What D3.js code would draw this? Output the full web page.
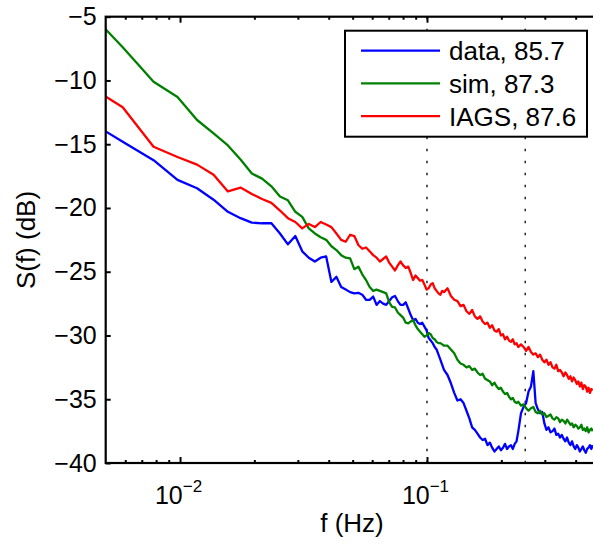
<!DOCTYPE html>
<html>
<head>
<meta charset="utf-8">
<script src="https://cdn.jsdelivr.net/npm/d3@7"></script>
<style>
  html, body { margin: 0; padding: 0; background: #fff; }
  svg { display: block; font-family: "Liberation Sans", Arial, sans-serif; }
</style>
</head>
<body>
<div id="chart"></div>
<script>
// frequency bins (f = k / 512 Hz)
const binIndex = [
  2, 3, 4, 5, 6, 7, 8, 9, 10, 11, 12, 13, 14, 15, 16, 17, 18, 19, 20, 21,
  22, 23, 24, 25, 26, 27, 28, 29, 30, 31, 32, 33, 34, 35, 36, 37, 38, 39, 40, 41,
  42, 43, 44, 45, 46, 47, 48, 49, 50, 51, 52, 53, 54, 55, 56, 57, 58, 59, 60,
  62, 64, 66, 68, 70, 72, 74, 76, 78, 80, 82, 84, 86, 88, 90, 92, 94, 96, 98, 100,
  102, 104, 106, 108, 110, 112, 114, 116, 118, 120,
  123, 126, 129, 132, 135, 138, 141, 144, 147, 150, 153, 156, 159, 162, 165, 168, 171, 174, 177, 180,
  183, 186, 189, 192, 195, 198, 201, 204, 207, 210, 213, 216, 219, 222, 225, 228, 231, 234, 237, 240
];
const binWidth = 1 / 512;

const dataValues = [
  -12.75, -14.8, -16.25, -17.8, -18.45, -19.35, -20.3, -20.8, -21.15, -21.2,
  -21.2, -22.0, -22.85, -22.2, -23.4, -23.9, -24.2, -23.9, -23.8, -25.8,
  -25.4, -26.2, -26.4, -26.6, -26.7, -26.65, -26.8, -27.2, -27.2, -26.95,
  -27.6, -27.3, -27.5, -27.6, -27.3, -27.0, -26.9, -27.3, -27.6, -27.6,
  -27.4, -27.9, -28.4, -28.8, -28.7, -29.0, -29.1, -29.0, -29.3, -29.6,
  -30.2, -30.4, -30.6, -30.9, -31.1, -31.5, -31.9, -32.3, -32.7,
  -33.1, -33.75, -34.5, -35.1, -35.0, -35.3, -35.9, -36.5, -37.2, -37.4,
  -37.7, -38.0, -38.2, -38.1, -38.6, -38.4, -38.8, -39.1, -38.9, -38.7,
  -39.0, -38.8, -38.5, -38.9, -38.7, -38.6, -38.9, -38.5, -38.3, -37.5,
  -36.1, -35.6, -35.3, -34.4, -34.0, -32.8, -35.3, -35.8, -36.1, -36.0,
  -36.9, -37.4, -37.2, -37.6, -37.5, -37.3, -37.8, -37.7, -38.0, -37.8,
  -38.1, -38.3, -38.0, -38.4, -38.6, -38.3, -38.7, -38.9, -38.6, -38.8,
  -39.1, -38.9, -38.7, -39.0, -39.2, -38.9, -38.8, -38.6, -38.9, -38.6
];

const simValues = [
  -3.8, -7.4, -10.1, -11.3, -13.1, -14.15, -15.1, -16.2, -17.3, -17.7,
  -18.3, -19.1, -19.4, -20.3, -20.7, -21.6, -22.0, -22.3, -22.5, -23.0,
  -23.3, -23.7, -23.9, -23.95, -24.8, -24.6, -25.2, -25.65, -26.2, -26.5,
  -26.4, -26.5, -26.6, -26.7, -27.4, -27.75, -27.8, -28.2, -28.4, -28.6,
  -29.0, -29.05, -28.9, -28.8, -29.2, -29.5, -29.7, -29.9, -30.1, -30.0,
  -29.8, -29.9, -30.2, -30.3, -30.5, -30.6, -30.6, -30.7, -30.8,
  -30.8, -31.1, -31.4, -31.9, -32.2, -32.3, -32.5, -32.4, -32.7, -32.6,
  -32.9, -33.1, -33.0, -33.4, -33.5, -33.6, -33.9, -33.7, -34.0, -34.2,
  -34.1, -34.4, -34.6, -34.5, -34.8, -35.0, -34.9, -35.2, -35.3, -35.2,
  -35.5, -35.4, -35.7, -35.9, -35.7, -35.6, -36.0, -36.1, -35.9, -36.2,
  -36.1, -36.4, -36.3, -36.2, -36.5, -36.6, -36.4, -36.5, -36.8, -36.6,
  -36.7, -36.9, -36.6, -36.8, -37.0, -36.9, -37.2, -37.0, -37.1, -37.3,
  -37.2, -37.0, -37.4, -37.3, -37.5, -37.2, -37.6, -37.4, -37.3, -37.5
];

const iagsValues = [
  -9.97, -12.1, -15.2, -16.0, -16.6, -17.4, -18.7, -18.4, -18.9, -19.3,
  -19.6, -20.2, -20.8, -21.1, -21.6, -21.25, -21.5, -21.1, -21.3, -21.5,
  -22.0, -22.5, -22.65, -22.1, -22.2, -22.9, -23.2, -23.1, -23.4, -23.7,
  -23.9, -24.2, -24.0, -23.8, -24.3, -24.6, -24.9, -24.5, -24.2, -24.5,
  -24.7, -24.6, -25.1, -25.65, -25.3, -25.5, -25.7, -25.65, -26.0, -26.4,
  -26.3, -26.0, -25.9, -26.3, -26.5, -26.7, -26.8, -26.5, -26.6,
  -26.3, -26.9, -27.2, -27.3, -27.7, -27.6, -28.1, -28.3, -28.0, -28.5,
  -28.7, -28.5, -28.9, -29.1, -29.0, -29.4, -29.2, -29.6, -29.7, -29.5,
  -30.0, -29.9, -30.3, -30.1, -30.4, -30.5, -30.3, -30.7, -30.6, -30.9,
  -30.7, -30.9, -31.2, -30.9, -31.3, -31.5, -31.4, -31.7, -31.5, -31.9,
  -32.1, -31.9, -32.3, -32.1, -32.5, -32.6, -32.3, -32.8, -32.7, -32.9,
  -33.2, -32.9, -33.1, -33.4, -33.2, -33.6, -33.3, -33.5, -33.8, -33.6,
  -34.0, -33.7, -34.2, -33.9, -34.0, -34.4, -34.1, -34.5, -34.2, -34.3
];

const seriesNames = ["data, 85.7", "sim, 87.3", "IAGS, 87.6"];
const seriesColors = ["#0000ff", "#008000", "#ff0000"];
const markerFreqs = [0.1, 0.25];

const yTicks = [-40, -35, -30, -25, -20, -15, -10, -5];
const xMajorTicks = [0.01, 0.1];
const xMinorTicks = [0.006, 0.007, 0.008, 0.009, 0.02, 0.03, 0.04, 0.05, 0.06, 0.07, 0.08, 0.09, 0.2, 0.3, 0.4, 0.5];
const xTickExponents = ["\u22122", "\u22121"];

// layout
let width = 593,
    height = 546,
    plotLeft = 105.7,
    plotTop = 16.7,
    plotRight = 599.6,
    plotBottom = 463;

let x = d3.scaleLog().domain([0.005, 0.5]).range([plotLeft, plotRight]);
let y = d3.scaleLinear().domain([-40, -5]).range([plotBottom, plotTop]);

let svg = d3.select("#chart").append("svg")
    .attr("width", width)
    .attr("height", height);

svg.append("clipPath").attr("id", "plot-clip")
    .append("rect")
    .attr("x", plotLeft).attr("y", plotTop)
    .attr("width", plotRight - plotLeft).attr("height", plotBottom - plotTop);

// dotted reference lines
svg.append("g")
    .selectAll("line")
    .data(markerFreqs)
    .join("line")
    .attr("x1", d => x(d)).attr("x2", d => x(d))
    .attr("y1", plotTop).attr("y2", plotBottom)
    .attr("stroke", "#222")
    .attr("stroke-width", 1.5)
    .attr("stroke-dasharray", "2.5,9.5");

// curves
let series = [dataValues, simValues, iagsValues].map((vals, i) => ({
    name: seriesNames[i],
    color: seriesColors[i],
    points: vals.map((v, j) => ({ f: binIndex[j] * binWidth, v: v }))
}));

let line = d3.line()
    .x(d => x(d.f))
    .y(d => y(d.v));

svg.append("g")
    .attr("clip-path", "url(#plot-clip)")
    .selectAll("path")
    .data(series)
    .join("path")
    .attr("d", d => line(d.points))
    .attr("fill", "none")
    .attr("stroke", d => d.color)
    .attr("stroke-width", 2.3)
    .attr("stroke-linejoin", "round");

// axes (ticks point inward)
svg.append("g")
    .attr("transform", `translate(${plotLeft},0)`)
    .call(d3.axisLeft(y).tickValues(yTicks).tickSize(-5).tickSizeOuter(0).tickPadding(9))
    .call(g => g.select(".domain").remove())
    .call(g => g.selectAll("line").attr("stroke", "#000").attr("stroke-width", 2))
    .call(g => g.selectAll("text").attr("font-size", "25px").attr("font-family", "Liberation Sans, Arial").attr("fill", "#000"));

let xBottom = svg.append("g").attr("transform", `translate(0,${plotBottom})`);
xBottom.append("g")
    .call(d3.axisBottom(x).tickValues(xMinorTicks).tickSize(-3).tickSizeOuter(0).tickFormat(""))
    .call(g => g.select(".domain").remove())
    .call(g => g.selectAll("line").attr("stroke", "#000").attr("stroke-width", 2));
xBottom.append("g")
    .call(d3.axisBottom(x).tickValues(xMajorTicks).tickSize(-6).tickSizeOuter(0).tickFormat(""))
    .call(g => g.select(".domain").remove())
    .call(g => g.selectAll("line").attr("stroke", "#000").attr("stroke-width", 2))
    .call(g => g.selectAll(".tick").append("text")
        .attr("y", 41)
        .attr("x", -2)
        .attr("text-anchor", "middle")
        .attr("fill", "#000")
        .attr("font-size", "25px")
        .attr("font-family", "Liberation Sans, Arial")
        .each(function(d, i) {
            let t = d3.select(this);
            t.append("tspan").text("10");
            t.append("tspan").attr("dy", -12).attr("font-size", "17px").text(xTickExponents[i]);
        }));

let xTop = svg.append("g").attr("transform", `translate(0,${plotTop})`);
xTop.append("g")
    .call(d3.axisTop(x).tickValues(xMinorTicks).tickSize(-3).tickSizeOuter(0).tickFormat(""))
    .call(g => g.select(".domain").remove())
    .call(g => g.selectAll("line").attr("stroke", "#000").attr("stroke-width", 2));
xTop.append("g")
    .call(d3.axisTop(x).tickValues(xMajorTicks).tickSize(-6).tickSizeOuter(0).tickFormat(""))
    .call(g => g.select(".domain").remove())
    .call(g => g.selectAll("line").attr("stroke", "#000").attr("stroke-width", 2));

// box
svg.append("rect")
    .attr("x", plotLeft).attr("y", plotTop)
    .attr("width", plotRight - plotLeft).attr("height", plotBottom - plotTop)
    .attr("fill", "none")
    .attr("stroke", "#000")
    .attr("stroke-width", 2.2);

// axis labels
svg.append("text")
    .attr("x", 352)
    .attr("y", 532)
    .attr("text-anchor", "middle")
    .attr("font-size", "26px")
    .text("f (Hz)");

svg.append("text")
    .attr("transform", "translate(35,240) rotate(-90)")
    .attr("text-anchor", "middle")
    .attr("font-size", "26px")
    .text("S(f) (dB)");

// legend
let legend = svg.append("g").attr("transform", "translate(345,30.7)");
legend.append("rect")
    .attr("width", 242).attr("height", 106)
    .attr("fill", "#fff")
    .attr("stroke", "#000")
    .attr("stroke-width", 2);

let rows = legend.selectAll("g.row")
    .data(series)
    .join("g")
    .attr("class", "row")
    .attr("transform", (d, i) => `translate(0,${20 + i * 32.7})`);
rows.append("line")
    .attr("x1", 16).attr("x2", 95)
    .attr("stroke", d => d.color)
    .attr("stroke-width", 2.3);
rows.append("text")
    .attr("x", 104)
    .attr("y", 9.5)
    .attr("font-size", "26px")
    .text(d => d.name);
</script>
</body>
</html>
